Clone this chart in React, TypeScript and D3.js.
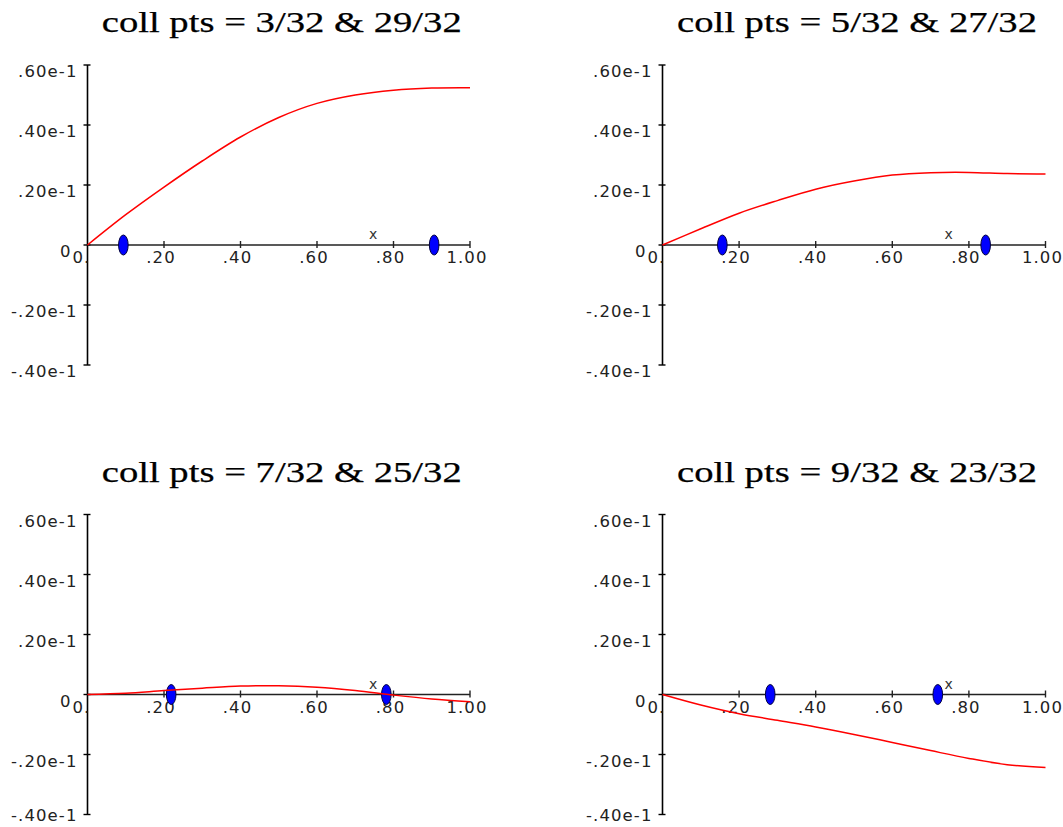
import React from 'react';
import * as d3 from 'd3';

// sample positions along x for each residual curve
const xSamples = [0, 0.1, 0.2, 0.3, 0.4, 0.5, 0.6, 0.7, 0.8, 0.9, 1.0];

// residual curves
const curve3_29 = [0, 0.0101, 0.0193, 0.0280, 0.0360, 0.0425, 0.0472, 0.0500, 0.0516, 0.0523, 0.0524];
const curve5_27 = [0, 0.0054, 0.0106, 0.0148, 0.0186, 0.0213, 0.0233, 0.0241, 0.0242, 0.0238, 0.0237];
const curve7_25 = [0, 0.0004, 0.0013, 0.0021, 0.0028, 0.0029, 0.0024, 0.0013, -0.0002, -0.0015, -0.0024];
const curve9_23 = [0, -0.0035, -0.0064, -0.0086, -0.0108, -0.0133, -0.0160, -0.0187, -0.0213, -0.0234, -0.0243];

const titles = [
  'coll pts = 3/32 & 29/32',
  'coll pts = 5/32 & 27/32',
  'coll pts = 7/32 & 25/32',
  'coll pts = 9/32 & 23/32',
];
const collPoints = [
  [3 / 32, 29 / 32],
  [5 / 32, 27 / 32],
  [7 / 32, 25 / 32],
  [9 / 32, 23 / 32],
];
const curves = [curve3_29, curve5_27, curve7_25, curve9_23];

const yTicks = [0.06, 0.04, 0.02, 0, -0.02, -0.04];
const yTickLabels = ['.60e-1', '.40e-1', '.20e-1', '0', '-.20e-1', '-.40e-1'];
const xTicks = [0, 0.2, 0.4, 0.6, 0.8, 1.0];
const xTickLabels = ['0.', '.20', '.40', '.60', '.80', '1.00'];
const xAxisLabelPos = 0.747;

const W = 1063;
const H = 827;

// panel placement: left edge of x range, width, y pixel of zero
const panels = [
  { left: 87.5, width: 382.5, zero: 245 },
  { left: 662.5, width: 383, zero: 245 },
  { left: 87.5, width: 382.5, zero: 694.5 },
  { left: 662.5, width: 383, zero: 694.5 },
];

const tickFont = '"DejaVu Sans", sans-serif';

function Panel({ idx }: { idx: number }) {
  const p = panels[idx];
  const x = d3.scaleLinear().domain([0, 1]).range([p.left, p.left + p.width]);
  const y = d3.scaleLinear().domain([0, 0.06]).range([p.zero, p.zero - 180]);
  const pts = xSamples.map((xv, i) => [xv, curves[idx][i]] as [number, number]);
  const line = d3.line<[number, number]>()
    .x(d => x(d[0]))
    .y(d => y(d[1]))
    .curve(d3.curveCatmullRom);

  return (
    <g>
      <text
        x={(x(0) + x(1)) / 2 + 3}
        y={p.zero - 213}
        textAnchor="middle"
        fontFamily='"Liberation Serif", "Times New Roman", serif'
        fontSize={30}
        textLength={360}
        lengthAdjust="spacingAndGlyphs"
        fill="#000"
        stroke="#000"
        strokeWidth={0.25}
      >
        {titles[idx]}
      </text>

      {/* y axis */}
      <line x1={x(0)} x2={x(0)} y1={y(0.06)} y2={y(-0.04)} stroke="#000" strokeWidth={1.6} />
      {yTicks.map((t, i) => (
        <g key={'y' + i}>
          <line x1={x(0) - 4} x2={x(0) + 3} y1={y(t)} y2={y(t)} stroke="#000" strokeWidth={1.4} />
          <text
            x={t === 0 ? x(0) - 16 : x(0) - 10}
            y={Math.min(y(t) + 12, H - 6)}
            textAnchor="end"
            fontFamily={tickFont}
            fontSize={16.5}
            letterSpacing={1.1}
            fill="#222"
          >
            {yTickLabels[i]}
          </text>
        </g>
      ))}

      {/* x axis */}
      <line x1={x(0)} x2={x(1)} y1={y(0)} y2={y(0)} stroke="#222" strokeWidth={1.6} />
      {xTicks.map((t, i) => (
        <g key={'x' + i}>
          {t > 0 && (
            <line x1={x(t)} x2={x(t)} y1={y(0) - 4} y2={y(0) + 3} stroke="#222" strokeWidth={1.4} />
          )}
          <text
            x={t === 0 ? x(t) - 15 : x(t) - 3}
            y={y(0) + 18}
            textAnchor={t === 0 ? 'start' : 'middle'}
            fontFamily={tickFont}
            fontSize={16.5}
            letterSpacing={1.1}
            fill="#222"
          >
            {xTickLabels[i]}
          </text>
        </g>
      ))}
      <text
        x={x(xAxisLabelPos)}
        y={y(0) - 6}
        textAnchor="middle"
        fontFamily={tickFont}
        fontSize={14}
        fill="#333"
      >
        x
      </text>

      {/* collocation points */}
      {collPoints[idx].map((c, i) => (
        <ellipse
          key={'c' + i}
          cx={x(c)}
          cy={y(0)}
          rx={4.8}
          ry={10}
          fill="#0000ff"
          stroke="#000040"
          strokeWidth={1}
        />
      ))}

      <path d={line(pts) || ''} fill="none" stroke="#ff0000" strokeWidth={1.5} />
    </g>
  );
}

export default function App() {
  return (
    <div style={{ position: 'absolute', left: 0, top: 0, width: W, height: H, background: '#fff' }}>
      <svg width={W} height={H}>
        {panels.map((_, i) => (
          <Panel key={i} idx={i} />
        ))}
      </svg>
    </div>
  );
}
